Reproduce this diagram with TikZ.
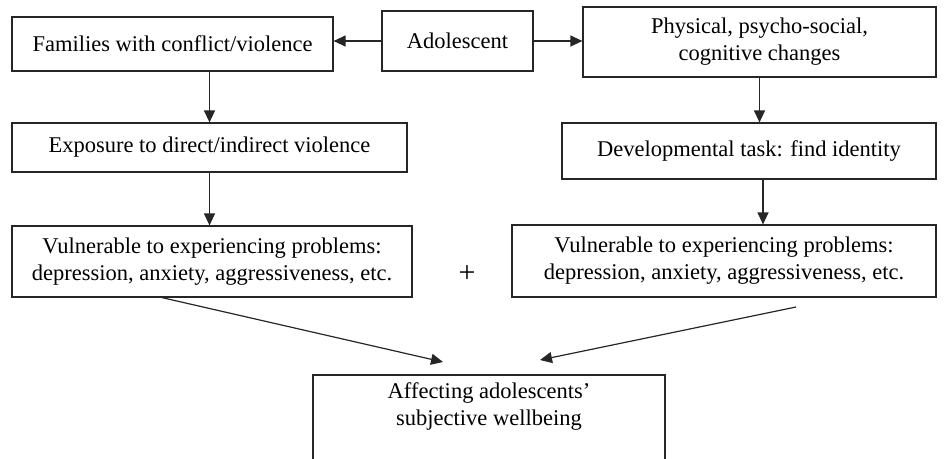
\documentclass[tikz,border=0pt]{standalone}
\usepackage{fontspec}
\setmainfont{Liberation Serif}
\usetikzlibrary{arrows.meta}
\begin{document}
\begin{tikzpicture}[x=1pt,y=-1pt,
  box/.style={draw=black!85, line width=1.2pt, inner sep=0pt, align=center,
    font=\fontsize{22.5}{27}\selectfont},
  arr/.style={draw=black!85, line width=1.2pt, -{Triangle[length=12pt,width=11pt]}}]
\clip (0,0) rectangle (945,458);
\useasboundingbox (0,0) rectangle (945,458);
\node[box, minimum width=321, minimum height=54] (fam) at (172.5,44) {Families with conflict/violence};
\node[box, minimum width=151, minimum height=60] (ado) at (457.5,41) {Adolescent};
\node[box, minimum width=353, minimum height=70] (phy) at (759.5,42) {Physical, psycho-social,\\ cognitive changes};
\node[box, minimum width=395, minimum height=49] (exp) at (209.5,147.5) {Exposure to direct/indirect violence};
\node[box, minimum width=374, minimum height=56] (dev) at (749,151) {Developmental task: find identity};
\node[box, minimum width=400, minimum height=71] (vl) at (212,261.5) {Vulnerable to experiencing problems:\\ depression, anxiety, aggressiveness, etc.};
\node[box, minimum width=424, minimum height=72] (vr) at (724,261) {Vulnerable to experiencing problems:\\ depression, anxiety, aggressiveness, etc.};
\node[font=\fontsize{30}{30}\selectfont, inner sep=0pt] (plus) at (467,274) {+};
\node[box, minimum width=352, minimum height=94] (aff) at (489,422) {Affecting adolescents’\\ subjective wellbeing\\ \strut};
\coordinate (t1) at (443,362);
\coordinate (s2) at (796,307);
\coordinate (t2) at (540,360);
\draw[arr] (ado.west) -- (ado.west -| fam.east);
\draw[arr] (ado.east) -- (ado.east -| phy.west);
\draw[arr] (fam.south -| exp.north) -- (exp.north);
\draw[arr] (exp.south) -- (exp.south |- vl.north);
\draw[arr] (phy.south) -- (phy.south |- dev.north);
\draw[arr] ([xshift=14pt]dev.south) -- ([xshift=14pt]dev.south |- vr.north);
\draw[arr] ([xshift=-50pt]vl.south) -- (t1);
\draw[arr] (s2) -- (t2);
\end{tikzpicture}
\end{document}
